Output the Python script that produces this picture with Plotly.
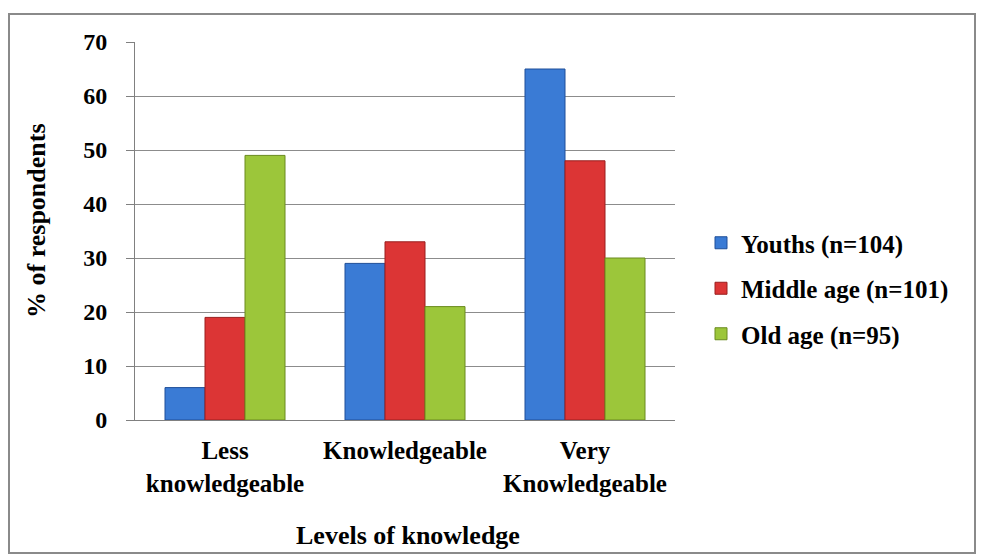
import plotly.graph_objects as go

categories = ["Less<br>knowledgeable", "Knowledgeable", "Very<br>Knowledgeable"]
series_names = ["Youths (n=104)", "Middle age (n=101)", "Old age (n=95)"]
youths = [6, 29, 65]
middle_age = [19, 33, 48]
old_age = [49, 21, 30]
y_ticks = [0, 10, 20, 30, 40, 50, 60, 70]
x_title = "Levels of knowledge"
y_title = "% of respondents"

colors = ["#3a7bd5", "#dc3535", "#9cc63a"]
edge_colors = ["#1f4f99", "#9a1f1f", "#6a8a1e"]
serif = "Liberation Serif"

# plot area in pixels: x 135..675, y 42..420
L, R, T, B = 135, 675, 42, 420
W, H = R - L, B - T


def px_x(x):
    return (x - L) / W


def px_y(y):
    return (B - y) / H


fig = go.Figure()
for i, (name, vals) in enumerate(zip(series_names, [youths, middle_age, old_age])):
    fig.add_trace(go.Bar(
        x=categories, y=vals, name=name, legendgroup=name,
        marker=dict(color=colors[i], line=dict(color=edge_colors[i], width=1)),
    ))

fig.update_layout(
    width=981, height=554,
    margin=dict(l=L, r=981 - R, t=T, b=554 - B),
    paper_bgcolor="white", plot_bgcolor="white",
    barmode="group", bargap=1/3, bargroupgap=0,
    showlegend=True,
    legend=dict(
        x=px_x(701), y=px_y(220), xanchor="left", yanchor="top",
        font=dict(family=serif, size=25, color="black", weight="bold"),
        traceorder="grouped", tracegroupgap=10,
        itemwidth=30, bgcolor="rgba(0,0,0,0)",
    ),
    xaxis=dict(
        showline=True, linecolor="#808080", linewidth=1,
        ticks="", tickfont=dict(family=serif, size=25, color="black", weight="bold"),
        ticklabelstandoff=8,
        range=[-0.5, 2.5],
    ),
    yaxis=dict(
        range=[0, 70], tickvals=y_ticks,
        showline=True, linecolor="#808080", linewidth=1,
        ticks="outside", ticklen=8, tickcolor="#808080",
        showgrid=True, gridcolor="#8c8c8c", gridwidth=1,
        tickfont=dict(family=serif, size=24, color="black", weight="bold"),
        ticklabelstandoff=14,
    ),
    annotations=[
        dict(text=x_title, xref="paper", yref="paper", x=px_x(408), y=px_y(535),
             xanchor="center", yanchor="middle", showarrow=False,
             font=dict(family=serif, size=26, color="black", weight="bold")),
        dict(text=y_title, xref="paper", yref="paper", x=px_x(37), y=px_y(221),
             xanchor="center", yanchor="middle", showarrow=False, textangle=-90,
             font=dict(family=serif, size=26, color="black", weight="bold")),
    ],
    shapes=[dict(
        type="rect", xref="paper", yref="paper",
        x0=px_x(9), x1=px_x(975), y0=px_y(553), y1=px_y(14),
        line=dict(color="#8a8a8a", width=2), fillcolor="rgba(0,0,0,0)", layer="below",
    )],
)

fig.write_html("out.html")
